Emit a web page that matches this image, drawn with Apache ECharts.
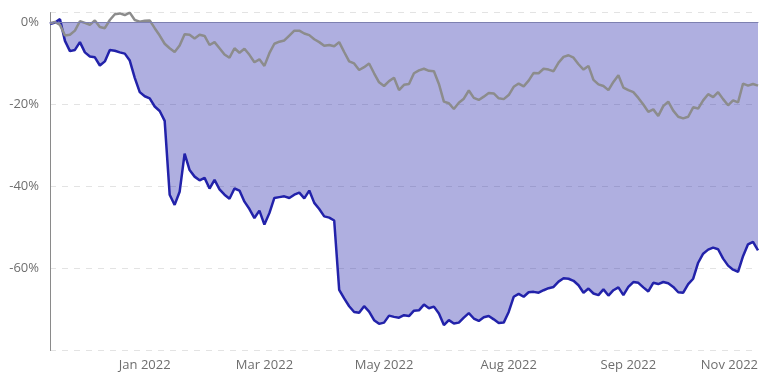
<!DOCTYPE html>
<html>
<head>
<meta charset="utf-8">
<script src="https://cdn.jsdelivr.net/npm/echarts@6/dist/echarts.min.js"></script>
<style>
html,body{margin:0;padding:0;background:#fff;}
#chart{width:761px;height:375px;}
</style>
</head>
<body>
<div id="chart"></div>
<script>
// Drawdown (%) of the two series, one value per sample step
const drawdownA = [
  -0.4, 0.0, 0.8, -4.5, -7.0, -6.7, -4.8, -7.3, -8.3, -8.5,
  -10.5, -9.5, -6.7, -6.9, -7.3, -7.6, -9.3, -13.5, -17.0, -18.0,
  -18.5, -20.5, -21.6, -24.0, -42.0, -44.5, -41.3, -32.0, -36.0, -37.6,
  -38.5, -37.9, -40.5, -38.4, -40.7, -42.0, -43.0, -40.5, -41.0, -43.7,
  -45.5, -47.7, -45.9, -49.3, -46.5, -42.8, -42.6, -42.4, -42.8, -42.0,
  -41.5, -42.9, -41.0, -44.0, -45.5, -47.3, -47.6, -48.3, -65.2, -67.3,
  -69.2, -70.6, -70.8, -69.2, -70.5, -72.6, -73.5, -73.2, -71.5, -71.8,
  -72.0, -71.4, -71.6, -70.3, -70.2, -68.8, -69.7, -69.3, -71.0, -73.8,
  -72.6, -73.4, -73.2, -72.0, -70.9, -72.2, -72.8, -71.9, -71.6, -72.4,
  -73.3, -73.2, -70.6, -66.9, -66.2, -66.9, -65.8, -65.7, -65.9, -65.3,
  -64.8, -64.5, -63.2, -62.4, -62.5, -63.0, -64.1, -65.9, -64.9, -66.1,
  -66.5, -65.1, -66.6, -65.3, -64.6, -66.5, -64.5, -63.3, -63.5, -64.6,
  -65.6, -63.5, -63.8, -63.3, -63.6, -64.5, -65.8, -65.9, -63.8, -62.5,
  -58.6, -56.4, -55.4, -54.9, -55.3, -57.6, -59.3, -60.3, -60.8, -57.0,
  -54.1, -53.5, -55.6
];
const drawdownB = [
  -0.2, 0.1, -0.6, -3.2, -3.0, -2.0, 0.3, -0.1, -0.6, 0.5,
  -1.1, -1.4, 0.6, 2.0, 2.2, 1.8, 2.4, 0.6, 0.2, 0.4,
  0.5, -1.4, -3.2, -5.2, -6.3, -7.2, -5.6, -2.9, -3.0, -3.9,
  -3.0, -3.3, -5.5, -4.8, -6.3, -7.8, -8.6, -6.3, -7.4, -6.4,
  -7.9, -9.7, -9.0, -10.6, -7.5, -5.2, -4.7, -4.4, -3.2, -2.0,
  -2.0, -2.7, -3.1, -4.1, -4.8, -5.7, -5.5, -5.8, -4.8, -7.2,
  -9.5, -10.0, -11.6, -10.9, -10.0, -12.4, -14.6, -15.5, -14.3, -13.5,
  -16.5, -15.2, -15.0, -12.4, -11.7, -11.3, -11.8, -11.9, -15.0, -19.3,
  -19.7, -21.1, -19.6, -18.6, -16.6, -18.4, -18.9, -18.1, -17.2, -17.3,
  -18.5, -18.7, -17.7, -15.7, -14.9, -15.6, -14.2, -12.3, -12.4, -11.3,
  -11.5, -11.9, -9.8, -8.4, -8.0, -8.6, -10.2, -11.5, -10.6, -14.0,
  -15.1, -15.5, -16.5, -14.5, -12.9, -15.9, -16.5, -17.0, -18.4, -20.0,
  -21.8, -21.2, -22.8, -20.4, -19.3, -21.5, -23.0, -23.4, -23.0, -20.7,
  -21.0, -19.0, -17.5, -18.2, -17.0, -18.7, -20.2, -19.0, -19.5, -14.9,
  -15.4, -15.0, -15.4
];
// x-axis tick labels and the sample index where each one sits
const tickLabels = ['Jan 2022', 'Mar 2022', 'May 2022', 'Aug 2022', 'Sep 2022', 'Nov 2022'];
const tickIndex = [19, 43, 67, 92, 116, 142];

const categories = drawdownA.map((_, i) => {
  const k = tickIndex.indexOf(i);
  return k >= 0 ? tickLabels[k] : '';
});

const chart = echarts.init(document.getElementById('chart'), null, {renderer: 'canvas'});
const font = "'Open Sans', 'Noto Sans', sans-serif";
chart.setOption({
  animation: false,
  grid: {left: 50, right: 0, top: 12.6, bottom: 24.5, containLabel: false},
  xAxis: {
    type: 'category',
    data: categories,
    boundaryGap: false,
    z: 5,
    axisLine: {show: true, onZero: true, lineStyle: {color: '#7d80b0', width: 1}},
    axisTick: {show: false},
    splitLine: {show: false},
    axisLabel: {
      interval: 0,
      color: '#6e6e6e',
      fontSize: 13,
      fontFamily: font,
      margin: 8,
      alignMaxLabel: 'right'
    }
  },
  yAxis: {
    type: 'value',
    min: -80,
    max: 2.4,
    interval: 20,
    axisLine: {show: true, lineStyle: {color: '#8a8a8a', width: 1}},
    axisTick: {show: false},
    splitLine: {show: true, lineStyle: {color: '#e3e3e3', type: [6, 6], width: 1}},
    axisLabel: {
      showMinLabel: false,
      showMaxLabel: false,
      color: '#6e6e6e',
      fontSize: 13,
      fontFamily: font,
      margin: 11,
      formatter: v => Math.round(v) + '%'
    }
  },
  series: [
    {
      type: 'line',
      data: drawdownA,
      symbol: 'none',
      lineStyle: {color: '#2222aa', width: 2.5},
      itemStyle: {color: '#2222aa'},
      areaStyle: {color: '#2222aa', opacity: 0.36}
    },
    {
      type: 'line',
      data: drawdownB,
      symbol: 'none',
      lineStyle: {color: '#8c8c8c', width: 2.5},
      itemStyle: {color: '#8c8c8c'}
    }
  ]
});
</script>
</body>
</html>
